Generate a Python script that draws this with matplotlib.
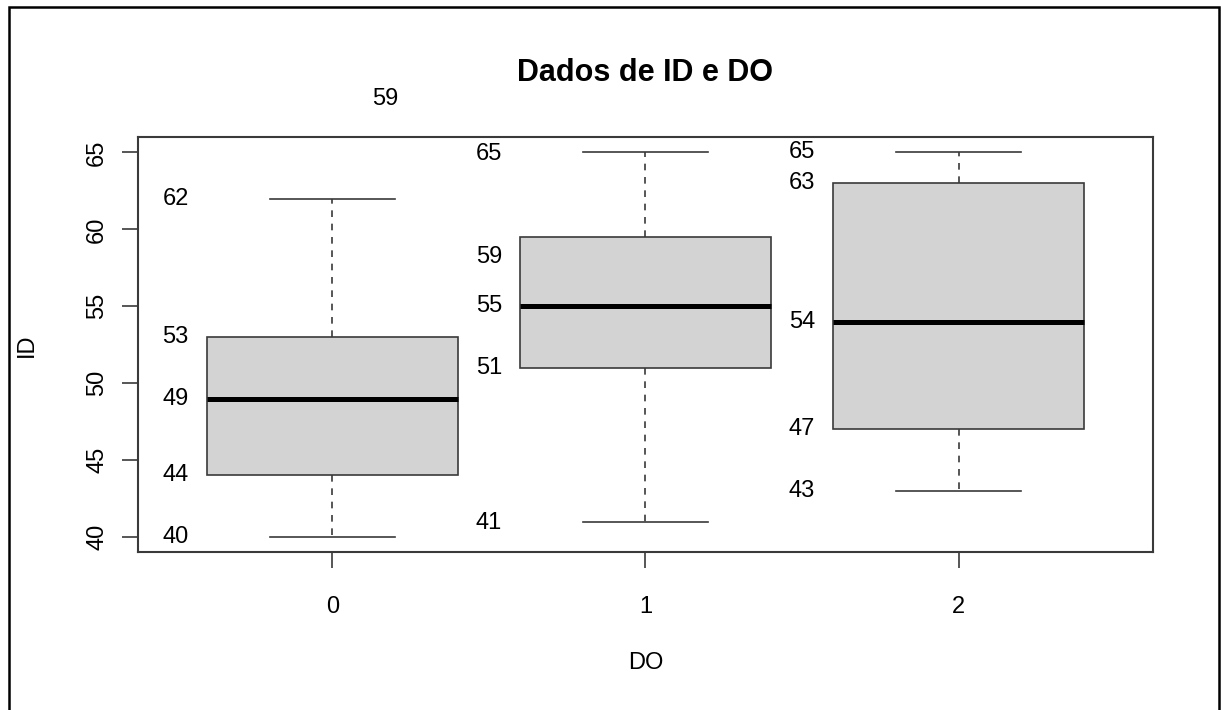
"""
Boxplot de ID por DO, no estilo de um boxplot base do R
"""

import matplotlib.pyplot as plt
from matplotlib.patches import Rectangle

plt.rcParams['font.family'] = ['Liberation Sans', 'DejaVu Sans']

# grupos e resumo de cinco numeros
groups   = [0, 1, 2]
whislo   = [40, 41, 43]
q1       = [44, 51, 47]
med      = [49, 55, 54]
q3       = [53, 59.5, 63]
whishi   = [62, 65, 65]

# rotulos escritos a esquerda de cada caixa
label_text = [[62, 53, 49, 44, 40],
              [65, 59, 55, 51, 41],
              [65, 63, 54, 47, 43]]
label_y    = [[62, 53, 49, 44, 40],
              [64.9, 58.2, 55, 51, 40.9],
              [65, 63, 54, 47, 43]]

# rotulo solto acima do grafico
extra_text = '59'
extra_pos  = (0.17, 68.45)

yticks = [40, 45, 50, 55, 60, 65]

title   = 'Dados de ID e DO'
xlabel  = 'DO'
ylabel  = 'ID'
caption = 'Figura 1 \u2013 Diagrama de caixa (boxplot) da idade (ID) e dura\u00e7\u00e3o (DO)'

lineColor = '#3a3a3a'
fontSize  = 17

fig = plt.figure(figsize=(12.21, 7.10), dpi=100)
axes = fig.add_axes([0.1130, 0.2221, 0.9443 - 0.1130, 0.8070 - 0.2221])

stats = []
for i in range(len(groups)):
    stats.append({'whislo': whislo[i], 'q1': q1[i], 'med': med[i],
                  'q3': q3[i], 'whishi': whishi[i], 'fliers': []})

axes.bxp(stats, positions=groups, widths=0.8, capwidths=0.4,
         showfliers=False, patch_artist=True,
         boxprops={'facecolor': '#d3d3d3', 'edgecolor': lineColor, 'linewidth': 1.2},
         medianprops={'color': 'black', 'linewidth': 3.6, 'solid_capstyle': 'butt'},
         whiskerprops={'color': lineColor, 'linewidth': 1.2, 'linestyle': (0, (4, 4))},
         capprops={'color': lineColor, 'linewidth': 1.2})

# rotulos de valores
for i, g in enumerate(groups):
    for txt, y in zip(label_text[i], label_y[i]):
        axes.text(g - 0.5, y, str(txt), ha='center', va='center',
                  fontsize=fontSize, color='black')

axes.text(extra_pos[0], extra_pos[1], extra_text, ha='center', va='center',
          fontsize=fontSize, color='black', clip_on=False)

# eixos
axes.set_xlim(-0.62, 2.62)
axes.set_ylim(39, 66)
axes.set_xticks(groups)
axes.set_xticklabels([str(g) for g in groups])
axes.set_yticks(yticks)
axes.set_yticklabels([str(t) for t in yticks], rotation=90, va='center')
axes.tick_params(axis='both', direction='out', length=11.5, width=1.2,
                 color=lineColor, labelsize=fontSize)
axes.tick_params(axis='x', pad=20)
axes.tick_params(axis='y', pad=10)
for spine in axes.spines.values():
    spine.set_color(lineColor)
    spine.set_linewidth(1.5)

# titulo e rotulos
fig.text(645 / 1221, 1 - 73 / 710, title, ha='center', va='center',
         fontsize=22, fontweight='bold')
fig.text(646 / 1221, 1 - 663 / 710, xlabel, ha='center', va='center',
         fontsize=fontSize)
fig.text(27 / 1221, 1 - 345 / 710, ylabel, ha='center', va='center',
         fontsize=fontSize, rotation=90)

# moldura da pagina e legenda cortada no topo (como na imagem original)
fig.patches.append(Rectangle((9 / 1221, -0.05), (1219 - 9) / 1221, 1.05 - 7 / 710,
                             transform=fig.transFigure, fill=False,
                             edgecolor='black', linewidth=1.8))
fig.text(12 / 1221, 1 + 2.5 / 710, caption, ha='left', va='baseline', fontsize=12.5)

fig.savefig('out.png', dpi=100)
